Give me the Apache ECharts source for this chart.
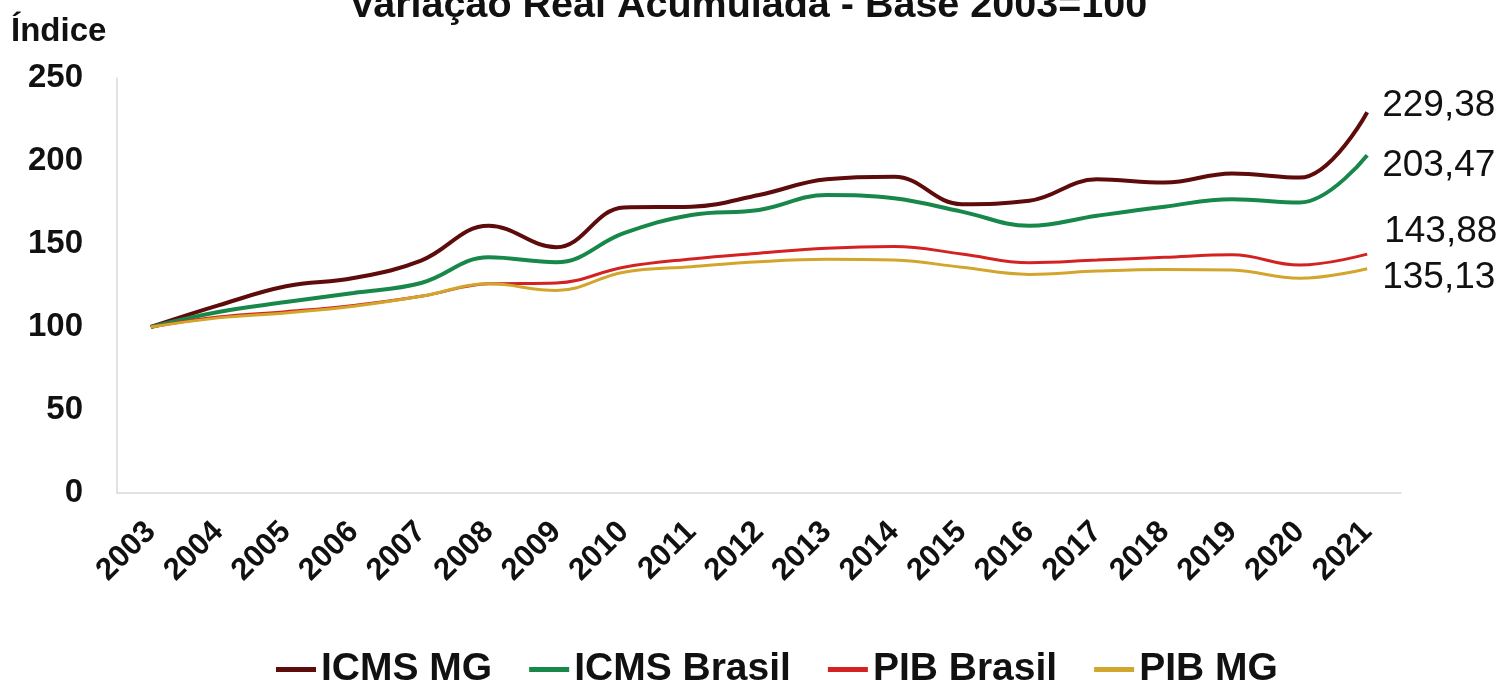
<!DOCTYPE html>
<html>
<head>
<meta charset="utf-8">
<style>
  html, body { margin: 0; padding: 0; background: #fff; }
  #chart { width: 1510px; height: 696px; }
</style>
<script src="https://cdn.jsdelivr.net/npm/echarts@6/dist/echarts.min.js"></script>
</head>
<body>
<div id="chart"></div>
<script>
// Índice de variação real acumulada, base 2003 = 100
const anos = ['2003','2004','2005','2006','2007','2008','2009','2010','2011','2012',
              '2013','2014','2015','2016','2017','2018','2019','2020','2021'];
const icmsMG     = [100, 113, 124.5, 129.5, 140, 161, 148, 172, 172.5, 179.5, 189, 190.5, 174, 176, 189, 187, 192.5, 190, 229.38];
const icmsBrasil = [100, 109, 115, 120.5, 126.5, 142, 139, 156.5, 167.5, 170.5, 179.5, 177.5, 169.5, 161, 167, 172.5, 177, 175, 203.47];
const pibBrasil  = [100, 106, 109.2, 113, 118.5, 126, 126.5, 136, 141, 144.5, 147.5, 148.5, 144, 138.7, 140.3, 142, 143.5, 137.3, 143.88];
const pibMG      = [100, 105.5, 108.5, 112.5, 118.5, 126, 122, 133, 136.3, 139.3, 140.8, 140.3, 136, 131.7, 133.7, 134.7, 134.3, 129.3, 135.13];
const yTicks = [0, 50, 100, 150, 200, 250];

const FONT = "'Liberation Sans', Arial, sans-serif";
const fmt = v => v.toFixed(2).replace('.', ',');

// each line ends with its final-year value written to the right
function serie(name, values, color, width, offset) {
  return {
    name: name, type: 'line', smooth: 0.4, showSymbol: false, symbol: 'none',
    lineStyle: { color: color, width: width }, itemStyle: { color: color },
    endLabel: { show: true, distance: 5, offset: offset,
      formatter: p => fmt(Array.isArray(p.value) ? p.value[1] : p.value),
      fontFamily: FONT, fontSize: 37, fontWeight: 500, color: '#111' },
    data: values, z: 3
  };
}

const chart = echarts.init(document.getElementById('chart'), null, { renderer: 'canvas' });
chart.setOption({
  backgroundColor: '#fff',
  animation: false,
  title: [
    { text: 'Variação Real Acumulada - Base 2003=100', left: 349, top: -14, padding: 0,
      textStyle: { fontFamily: FONT, fontSize: 39.5, fontWeight: 'bold', color: '#111' } },
    { text: 'Índice', left: 11, top: 15, padding: 0,
      textStyle: { fontFamily: FONT, fontSize: 33, fontWeight: 'bold', color: '#111' } }
  ],
  legend: {
    bottom: 2, left: 271, itemWidth: 40, itemHeight: 5, itemGap: 37, icon: 'rect',
    textStyle: { fontFamily: FONT, fontSize: 39, fontWeight: 'bold', color: '#111' },
    data: ['ICMS MG', 'ICMS Brasil', 'PIB Brasil', 'PIB MG']
  },
  grid: { left: 117, right: 109, top: 78, bottom: 203 },
  xAxis: {
    type: 'category', data: anos, boundaryGap: true,
    axisLine: { lineStyle: { color: '#d9d9d9', width: 1.5 } },
    axisTick: { show: false },
    axisLabel: { rotate: 45, margin: 34, interval: 0, fontFamily: FONT, fontSize: 31,
                 fontWeight: 'bold', color: '#111' }
  },
  yAxis: {
    type: 'value', min: yTicks[0], max: yTicks[yTicks.length - 1], interval: 50,
    axisLine: { show: true, lineStyle: { color: '#d9d9d9', width: 1.5 } },
    axisTick: { show: false },
    splitLine: { show: false },
    axisLabel: { margin: 34, fontFamily: FONT, fontSize: 33, fontWeight: 'bold', color: '#111' }
  },
  series: [
    serie('ICMS MG', icmsMG, '#5e0b0b', 4, [10, -6]),
    serie('ICMS Brasil', icmsBrasil, '#17884a', 4, [10, 11]),
    serie('PIB Brasil', pibBrasil, '#d42222', 3, [12, -22]),
    serie('PIB MG', pibMG, '#d2a62c', 3, [10, 9])
  ]
});
</script>
</body>
</html>
